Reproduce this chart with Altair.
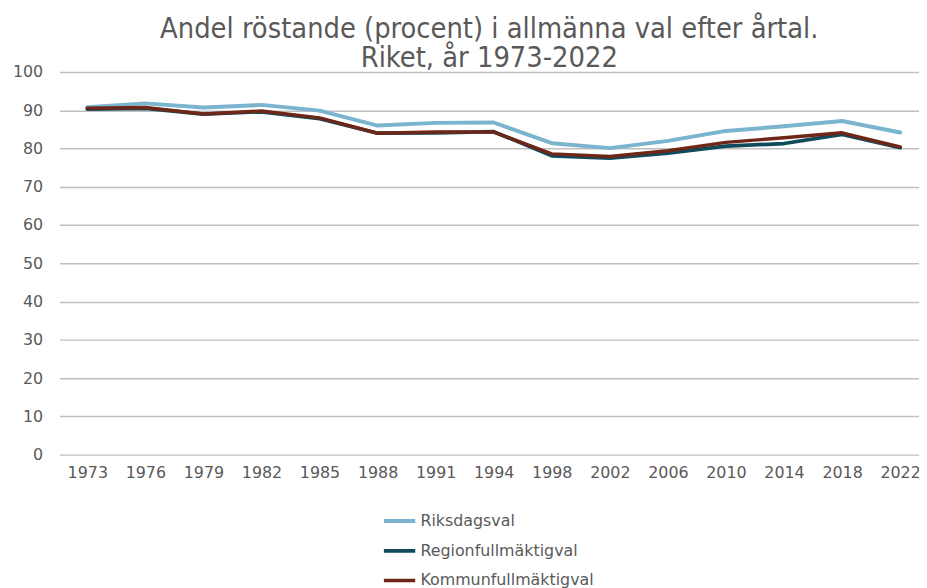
import altair as alt
import pandas as pd

years = ["1973", "1976", "1979", "1982", "1985", "1988", "1991", "1994",
         "1998", "2002", "2006", "2010", "2014", "2018", "2022"]
riksdag = [90.8, 91.8, 90.7, 91.4, 89.9, 86.0, 86.7, 86.8, 81.4, 80.1, 82.0, 84.6, 85.8, 87.2, 84.2]
region = [90.3, 90.5, 89.0, 89.6, 87.8, 84.0, 84.1, 84.4, 78.1, 77.5, 78.8, 80.6, 81.3, 83.7, 80.2]
kommun = [90.5, 90.7, 89.0, 89.8, 88.0, 84.0, 84.3, 84.3, 78.6, 77.9, 79.4, 81.6, 82.8, 84.1, 80.4]

series = ["Riksdagsval", "Regionfullmäktigval", "Kommunfullmäktigval"]
colors = ["#7ab4ce", "#0f4a5d", "#6e2617"]
widths = [4, 3.5, 3.5]

rows = []
for name, vals in zip(series, [riksdag, region, kommun]):
    for i, (y, v) in enumerate(zip(years, vals)):
        rows.append({"idx": i, "year": y, "value": v, "serie": name})
df = pd.DataFrame(rows)

year_arr = "[" + ",".join(f"'{y}'" for y in years) + "]"
gray = "#595959"

chart = alt.Chart(df).mark_line(strokeJoin="round", strokeCap="round").encode(
    x=alt.X("idx:Q",
            scale=alt.Scale(domain=[-0.478, 14.325], nice=False, zero=False),
            axis=alt.Axis(values=list(range(len(years))), labelExpr=f"{year_arr}[datum.value]",
                          title=None, grid=False, domain=False, ticks=False,
                          labelFont="DejaVu Sans", labelFontSize=16, labelColor=gray,
                          labelPadding=10, labelFlush=False, labelOverlap=False)),
    y=alt.Y("value:Q",
            scale=alt.Scale(domain=[0, 100], nice=False),
            axis=alt.Axis(values=list(range(0, 101, 10)), title=None, domain=False, ticks=False,
                          gridColor="#bfbfbf", gridWidth=1.5,
                          labelFont="DejaVu Sans", labelFontSize=16, labelColor=gray,
                          labelPadding=17)),
    color=alt.Color("serie:N", sort=series,
                    scale=alt.Scale(domain=series, range=colors),
                    legend=alt.Legend(title=None, orient="none", legendX=325, legendY=435,
                                      direction="vertical", symbolType="stroke",
                                      symbolSize=1000, symbolStrokeWidth=3.5,
                                      labelFont="DejaVu Sans", labelFontSize=16,
                                      labelColor=gray, labelOffset=3, rowPadding=4,
                                      labelLimit=400)),
    strokeWidth=alt.StrokeWidth("serie:N", scale=alt.Scale(domain=series, range=widths), legend=None),
    order=alt.Order("idx:Q"),
    detail="serie:N",
).properties(
    width=867,
    height=386,
    autosize=alt.AutoSizeParams(type="none"),
    padding={"left": 52, "top": 62, "right": 0, "bottom": 132},
    title=alt.TitleParams(
        text=["Andel röstande (procent) i allmänna val efter årtal.", "Riket, år 1973-2022"],
        font="Liberation Sans Narrow, DejaVu Sans Condensed, sans-serif",
        fontSize=29, fontWeight="normal", color=gray, anchor="middle", offset=2,
        lineHeight=29, dy=11),
).configure_view(stroke=None)

chart.save("out.html", embed_options={"renderer": "svg", "actions": False})
